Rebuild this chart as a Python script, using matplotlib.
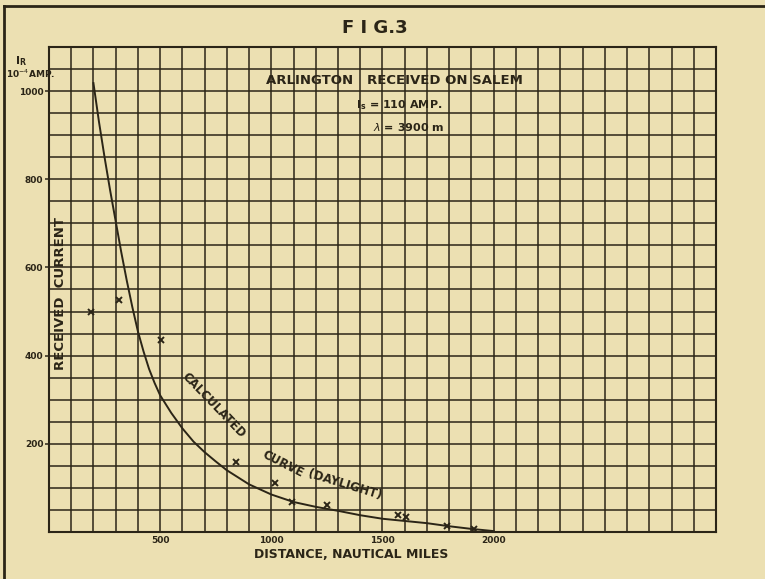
import numpy as np
import matplotlib.pyplot as plt
from matplotlib.ticker import MultipleLocator, FixedLocator
from matplotlib.lines import Line2D

# calculated curve (daylight)
curve_miles = [200, 225, 250, 275, 300, 325, 350, 375, 400, 425, 450, 475, 500,
               550, 600, 650, 700, 750, 800, 900, 1000, 1100, 1200, 1300, 1400,
               1500, 1600, 1700, 1800, 1900, 2000]
curve_current = [1018, 930, 850, 775, 705, 635, 570, 510, 455, 410, 370, 338, 310,
                 270, 235, 205, 181, 160, 140, 108, 85, 68, 57, 48, 38,
                 30, 25, 20, 13, 7, 2]

# observed values (crosses)
obs_miles = [190, 315, 505, 840, 1018, 1095, 1250, 1570, 1605, 1790, 1910]
obs_current = [500, 527, 435, 159, 110, 68, 62, 38, 33, 13, 7]

x_labels = [500, 1000, 1500, 2000]
y_labels = [200, 400, 600, 800, 1000]

paper = '#ece0b2'
ink = '#2b2517'

fig = plt.figure(figsize=(7.65, 5.79), dpi=100, facecolor=paper)
ax = fig.add_axes([0.064, 0.0812, 0.872, 0.8377])
ax.set_facecolor(paper)

ax.set_xlim(0, 3000)
ax.set_ylim(0, 1100)

# graph paper grid
ax.xaxis.set_major_locator(FixedLocator(x_labels))
ax.xaxis.set_minor_locator(MultipleLocator(100))
ax.yaxis.set_major_locator(FixedLocator(y_labels))
ax.yaxis.set_minor_locator(MultipleLocator(50))
ax.grid(True, which='both', color=ink, linewidth=1.1)
ax.set_axisbelow(True)
for s in ax.spines.values():
    s.set_color(ink)
    s.set_linewidth(1.5)

ax.tick_params(axis='x', which='both', length=0, pad=3, labelsize=6.5, colors=ink)
ax.tick_params(axis='y', which='major', length=3, width=1.1, pad=1, labelsize=6.5, colors=ink)
ax.tick_params(axis='y', which='minor', length=0)
for lbl in ax.get_xticklabels() + ax.get_yticklabels():
    lbl.set_fontweight('bold')

# curve and observations
ax.plot(curve_miles, curve_current, color=ink, linewidth=1.4, zorder=3)
ax.plot(obs_miles, obs_current, linestyle='none', marker='x', markersize=4,
        markeredgewidth=1.4, color=ink, zorder=4)

# labels
fig.text(0.49, 0.952, 'F I G.3', ha='center', va='center', fontsize=13,
         color=ink, fontweight='bold')
ax.text(0.518, 0.931, 'ARLINGTON   RECEIVED ON SALEM', transform=ax.transAxes,
        ha='center', va='center', fontsize=9.5, fontweight='bold', color=ink)
ax.text(0.525, 0.881, r'I$_{\mathbf{s}}$ = 110 AMP.', transform=ax.transAxes,
        ha='center', va='center', fontsize=8, fontweight='bold', color=ink)
ax.text(0.54, 0.834, r'$\lambda$ = 3900 m', transform=ax.transAxes,
        ha='center', va='center', fontsize=8, fontweight='bold', color=ink)
ax.text(50, 540, 'RECEIVED  CURRENT', rotation=90, ha='center', va='center',
        fontsize=9.5, fontweight='bold', color=ink)

ax.text(742, 288, 'CALCULATED', rotation=-46, ha='center', va='center',
        fontsize=8.5, fontweight='bold', color=ink)
ax.text(1053, 155, 'CURVE', rotation=-27, ha='center', va='center',
        fontsize=8.5, fontweight='bold', color=ink)
ax.text(1330, 106, '(DAYLIGHT)', rotation=-17, ha='center', va='center',
        fontsize=8.5, fontweight='bold', color=ink)

ax.text(1360, -52, 'DISTANCE, NAUTICAL MILES', ha='center', va='center',
        fontsize=9, fontweight='bold', color=ink)

fig.text(0.028, 0.895, r'I$_{\mathbf{R}}$', ha='center', va='center', fontsize=8,
         fontweight='bold', color=ink)
fig.text(0.04, 0.873, r'10$^{-4}$AMP.', ha='center', va='center', fontsize=6.5,
         fontweight='bold', color=ink)

# frame round the sheet
fig.add_artist(Line2D([0.005, 0.005], [0.0, 0.99], transform=fig.transFigure,
                      color=ink, linewidth=2))
fig.add_artist(Line2D([0.005, 1.0], [0.99, 0.99], transform=fig.transFigure,
                      color=ink, linewidth=2))

fig.savefig('out.png', dpi=100, facecolor=paper)
